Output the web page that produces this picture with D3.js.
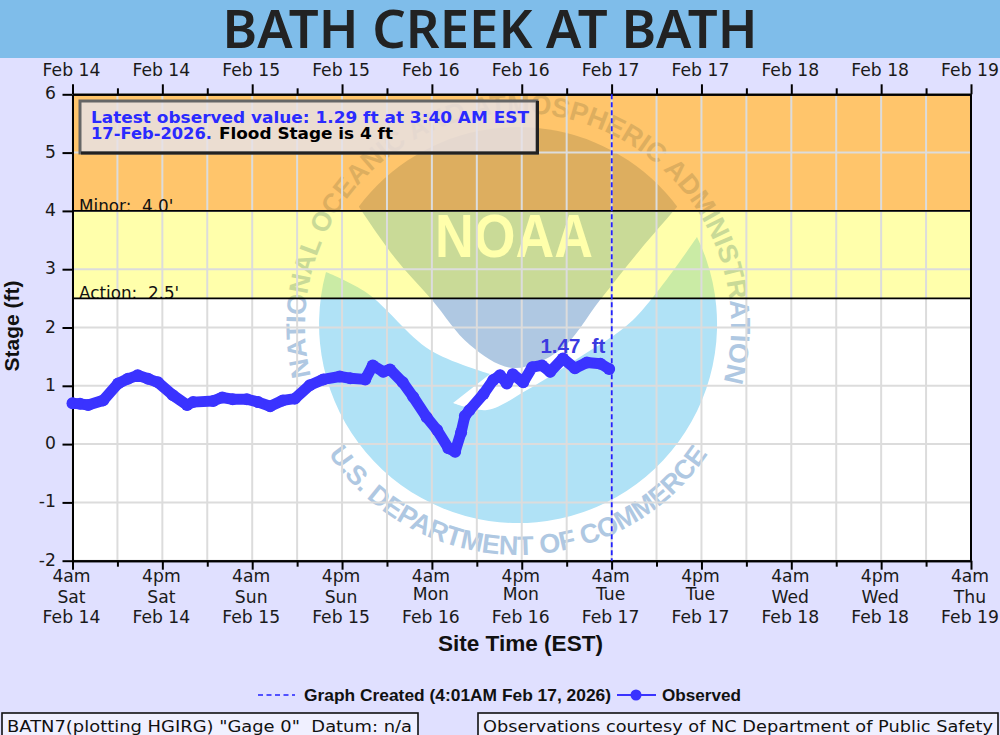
<!DOCTYPE html>
<html><head><meta charset="utf-8">
<script src="https://cdnjs.cloudflare.com/ajax/libs/d3/7.8.5/d3.min.js"></script>
<style>html,body{margin:0;padding:0;background:#E0E0FF;overflow:hidden}svg{display:block}text{white-space:pre}</style>
</head><body><svg id="c" width="1000" height="735"></svg>
<script>
const titleText = "BATH CREEK AT BATH";
const obsHours = [0,1,2.1,4.1,6.1,7.4,8.7,10.1,11.4,13.4,15.3,16.1,18.8,20,21.4,23.3,24.8,26.4,28.1,29.7,31.7,33.5,35.7,37.1,39.1,40.1,41.5,42.4,44.1,45.5,47.3,48.7,50.2,51.1,51.9,52.4,53,54.9,56.2,57.1,58,58.8,60.2,61.4,62.7,63.8,65.5,67.1,68.7,70.5,71.67];
const obsStage = [0.70,0.69,0.67,0.75,1.04,1.12,1.18,1.12,1.06,0.84,0.67,0.72,0.74,0.80,0.77,0.77,0.72,0.65,0.75,0.78,1.01,1.11,1.16,1.13,1.11,1.35,1.24,1.28,1.06,0.81,0.46,0.24,-0.07,-0.13,0.20,0.48,0.58,0.86,1.10,1.18,1.04,1.20,1.06,1.32,1.35,1.24,1.47,1.30,1.40,1.38,1.29];
const tickHours = [0,12,24,36,48,60,72,84,96,108,120];
const timeLabels = ["4am","4pm","4am","4pm","4am","4pm","4am","4pm","4am","4pm","4am"];
const dayLabels = ["Sat","Sat","Sun","Sun","Mon","Mon","Tue","Tue","Wed","Wed","Thu"];
const dateLabels = ["Feb 14","Feb 14","Feb 15","Feb 15","Feb 16","Feb 16","Feb 17","Feb 17","Feb 18","Feb 18","Feb 19"];
const minorHours = [6,18,30,42,54,66,78,90,102,114];
const stageTicks = [-2,-1,0,1,2,3,4,5,6];
const floodBands = [[6,4,"Minor:  4.0'"],[4,2.5,"Action:  2.5'"]];
const createdHour = 72.02;
const peakValue = 1.47, peakHour = 65.5;

const svg = d3.select("#c");
const sans = "'DejaVu Sans'", bold = "'Liberation Sans'";
const L=72.5,R=971,T=94.3,B=560.7;
const x = d3.scaleLinear().domain([0,120]).range([L,R]);
const y = d3.scaleLinear().domain([-2,6]).range([B,T]);
const defs = svg.append("defs");

svg.append("rect").attr("width",1000).attr("height",735).attr("fill","#E0E0FF");
svg.append("rect").attr("width",1000).attr("height",58).attr("fill","#7FBDEA");
svg.append("text").attr("x",490).attr("y",48).attr("text-anchor","middle")
  .attr("font-family","'Noto Sans'").attr("font-weight",600).attr("font-size",52)
  .attr("textLength",535).attr("lengthAdjust","spacingAndGlyphs").attr("fill","#222").text(titleText);

svg.append("rect").attr("x",L).attr("y",T).attr("width",R-L).attr("height",B-T).attr("fill","#fff");

// watermark
const cx=518,cy=326,r=199;
const logo = svg.append("g");
defs.append("clipPath").attr("id","disc").append("circle").attr("cx",cx).attr("cy",cy).attr("r",r);
const smooth = d3.line().curve(d3.curveCatmullRom.alpha(.5));
const capEdge = [[359,207],[395,258],[432,300],[470,345],[513,368],[560,350],[600,300],[640,250],[677,207]];
logo.append("path").attr("clip-path","url(#disc)").attr("fill","#AFC8E2")
  .attr("d",smooth(capEdge)+"L700,100L340,100Z");
const upper=[[326,272],[367,293],[430,350],[490,374]];
const lower=[[453,403],[487,410],[527,390],[580,357],[633,320],[697,237]];
logo.append("path").attr("fill","#B0E2F6").attr("d",
  smooth(upper)+"L"+lower[0].join(",")+smooth(lower).replace(/^M[^C]*/,"")+
  `A${r},${r} 0 1 1 326,272Z`);
logo.append("text").attr("x",514).attr("y",257).attr("text-anchor","middle")
  .attr("font-family",bold).attr("font-weight",700).attr("font-size",62)
  .attr("textLength",158).attr("lengthAdjust","spacingAndGlyphs").attr("fill","#fff").text("NOAA");
const rad=d=>d*Math.PI/180;
const pt=(rr,deg)=>[cx+rr*Math.cos(rad(deg)),cy+rr*Math.sin(rad(deg))];
const r1=213,a0=166.4,a1=375;
defs.append("path").attr("id","arcTop").attr("d",`M${pt(r1,a0)}A${r1},${r1} 0 1 1 ${pt(r1,a1)}`);
logo.append("text").attr("font-family",bold).attr("font-weight",700).attr("font-size",27).attr("fill","#AFC8E2")
  .append("textPath").attr("href","#arcTop").attr("textLength",r1*rad(a1-a0)).attr("lengthAdjust","spacing")
  .text("NATIONAL OCEANIC AND ATMOSPHERIC ADMINISTRATION");
const r2=229,b0=146,b1=34;
defs.append("path").attr("id","arcBot").attr("d",`M${pt(r2,b0)}A${r2},${r2} 0 0 0 ${pt(r2,b1)}`);
logo.append("text").attr("font-family",bold).attr("font-weight",700).attr("font-size",27).attr("fill","#AFC8E2")
  .append("textPath").attr("href","#arcBot").attr("textLength",r2*rad(b0-b1)).attr("lengthAdjust","spacing")
  .text("U.S. DEPARTMENT OF COMMERCE");

// bands + labels
const bandFill = ["rgba(255,155,0,0.58)","rgba(255,255,0,0.33)"];
floodBands.forEach((b,i)=>{
  svg.append("rect").attr("x",L).attr("width",R-L).attr("y",y(b[0])).attr("height",y(b[1])-y(b[0])).attr("fill",bandFill[i]);
});
// grid
const grid = svg.append("g").attr("stroke","#DCDCDC").attr("stroke-width",2);
grid.selectAll(".v").data(tickHours.concat(minorHours)).join("line").attr("x1",d=>x(d)).attr("x2",d=>x(d)).attr("y1",T).attr("y2",B);
grid.selectAll(".h").data(stageTicks).join("line").attr("x1",L).attr("x2",R).attr("y1",d=>y(d)).attr("y2",d=>y(d));
floodBands.forEach((b,i)=>{
  const id="bc"+i;
  defs.append("clipPath").attr("id",id).append("rect").attr("x",L).attr("width",R-L).attr("y",y(b[0])).attr("height",y(b[1])-y(b[0]));
  svg.append("g").attr("clip-path",`url(#${id})`).append("text").attr("x",79).attr("y",y(b[1])+1)
    .attr("font-family",sans).attr("font-size",16.8).attr("fill","#111").text(b[2]);
  svg.append("line").attr("x1",L).attr("x2",R).attr("y1",y(b[1])).attr("y2",y(b[1])).attr("stroke","#000").attr("stroke-width",1.6);
});

// axes
function styleAxis(g){g.select(".domain").attr("stroke","#000").attr("stroke-width",2);g.selectAll("line").attr("stroke","#000").attr("stroke-width",2);g.selectAll("text").remove();}
svg.append("g").attr("transform",`translate(0,${B})`).call(d3.axisBottom(x).tickValues(tickHours).tickSize(9).tickSizeOuter(0)).call(styleAxis);
svg.append("g").attr("transform",`translate(0,${B})`).call(d3.axisBottom(x).tickValues(minorHours).tickSize(6).tickSizeOuter(0)).call(styleAxis);
svg.append("g").attr("transform",`translate(0,${T})`).call(d3.axisTop(x).tickValues(tickHours).tickSize(10).tickSizeOuter(0)).call(styleAxis);
svg.append("g").attr("transform",`translate(0,${T})`).call(d3.axisTop(x).tickValues(minorHours).tickSize(6).tickSizeOuter(0)).call(styleAxis);
svg.append("g").attr("transform",`translate(${L},0)`).call(d3.axisLeft(y).tickValues(stageTicks).tickSize(10).tickSizeOuter(0)).call(styleAxis);
svg.append("line").attr("x1",R).attr("x2",R).attr("y1",T).attr("y2",B).attr("stroke","#000").attr("stroke-width",2);

const tl = svg.append("g").attr("font-family",sans).attr("font-size",17.2).attr("fill","#1a1a1a").attr("text-anchor","middle");
tickHours.forEach((h,i)=>{
  tl.append("text").attr("x",x(h)-1).attr("y",76).text(dateLabels[i]);
  tl.append("text").attr("x",x(h)-1).attr("y",582).text(timeLabels[i]);
  const up = dayLabels[i]==="Mon"||dayLabels[i]==="Tue";
  tl.append("text").attr("x",x(h)-1).attr("y",up?600:603).text(dayLabels[i]);
  tl.append("text").attr("x",x(h)-1).attr("y",623).text(dateLabels[i]);
});
const yl = svg.append("g").attr("font-family",sans).attr("font-size",17.2).attr("fill","#1a1a1a").attr("text-anchor","end");
stageTicks.forEach(v=>yl.append("text").attr("x",56).attr("y",y(v)+5).text(v));

svg.append("text").attr("transform","translate(19,326) rotate(-90)").attr("text-anchor","middle")
  .attr("font-family",bold).attr("font-weight",700).attr("font-size",21).attr("fill","#111").text("Stage (ft)");
svg.append("text").attr("x",520.5).attr("y",651).attr("text-anchor","middle")
  .attr("font-family",bold).attr("font-weight",700).attr("font-size",22).attr("textLength",165).attr("lengthAdjust","spacingAndGlyphs").attr("fill","#111").text("Site Time (EST)");

// created line
svg.append("line").attr("x1",x(createdHour)).attr("x2",x(createdHour)).attr("y1",T).attr("y2",B)
  .attr("stroke","#2222FF").attr("stroke-width",1.8).attr("stroke-dasharray","5,3");

// observed
const blue="#3A33FF";
const line=d3.line().x(i=>x(obsHours[i])).y(i=>y(obsStage[i]));
svg.append("path").attr("d",line(d3.range(obsHours.length))).attr("fill","none").attr("stroke",blue)
  .attr("stroke-width",11).attr("stroke-linejoin","round").attr("stroke-linecap","round");
svg.append("g").attr("fill",blue).selectAll("circle").data(d3.range(obsHours.length)).join("circle")
  .attr("cx",i=>x(obsHours[i])).attr("cy",i=>y(obsStage[i])).attr("r",6);
svg.append("text").attr("x",x(peakHour)+10).attr("y",y(peakValue)-5).attr("text-anchor","middle")
  .attr("font-family",bold).attr("font-weight",700).attr("font-size",20.5).attr("fill","#3A3AE0").text(peakValue.toFixed(2)+"  ft");

// info box
svg.append("rect").attr("x",80).attr("y",101).attr("width",457).attr("height",52)
  .attr("fill","rgba(230,226,232,0.82)").attr("stroke","#666").attr("stroke-width",3);
svg.append("path").attr("d","M81,153H537.5V101").attr("fill","none").attr("stroke","#222").attr("stroke-width",3);
const info = svg.append("g").attr("font-family",sans).attr("font-weight",700).attr("font-size",15);
info.append("text").attr("x",91).attr("y",123).attr("fill","#2A2AFF").attr("textLength",438).attr("lengthAdjust","spacingAndGlyphs")
  .text("Latest observed value: 1.29 ft at 3:40 AM EST");
info.append("text").attr("x",91).attr("y",139).attr("fill","#2A2AFF").attr("textLength",121).attr("lengthAdjust","spacingAndGlyphs").text("17-Feb-2026.");
info.append("text").attr("x",219).attr("y",139).attr("fill","#000").attr("textLength",174).attr("lengthAdjust","spacingAndGlyphs").text("Flood Stage is 4 ft");

// legend
svg.append("line").attr("x1",258).attr("x2",295).attr("y1",695).attr("y2",695).attr("stroke","#2222FF").attr("stroke-width",1.6).attr("stroke-dasharray","5,3.5");
const lg=svg.append("g").attr("font-family",bold).attr("font-weight",700).attr("font-size",17).attr("fill","#111");
lg.append("text").attr("x",304).attr("y",701).attr("textLength",307).attr("lengthAdjust","spacingAndGlyphs").text("Graph Created (4:01AM Feb 17, 2026)");
lg.append("text").attr("x",662).attr("y",701).attr("textLength",79).attr("lengthAdjust","spacingAndGlyphs").text("Observed");
svg.append("line").attr("x1",617).attr("x2",656).attr("y1",695).attr("y2",695).attr("stroke",blue).attr("stroke-width",2);
svg.append("circle").attr("cx",636).attr("cy",695).attr("r",5.5).attr("fill",blue);

// footer
const foot=[[2,418,7,405,'BATN7(plotting HGIRG) "Gage 0"  Datum: n/a'],[478,998,483,510,"Observations courtesy of NC Department of Public Safety"]];
foot.forEach(f=>{
  svg.append("rect").attr("x",f[0]).attr("y",713).attr("width",f[1]-f[0]).attr("height",40).attr("fill","#F0F0FF").attr("stroke","#111").attr("stroke-width",1.6);
  svg.append("text").attr("x",f[2]).attr("y",732).attr("font-family",sans).attr("font-size",16.5).attr("fill","#111")
    .attr("textLength",f[3]).attr("lengthAdjust","spacingAndGlyphs").text(f[4]);
});
</script></body></html>
